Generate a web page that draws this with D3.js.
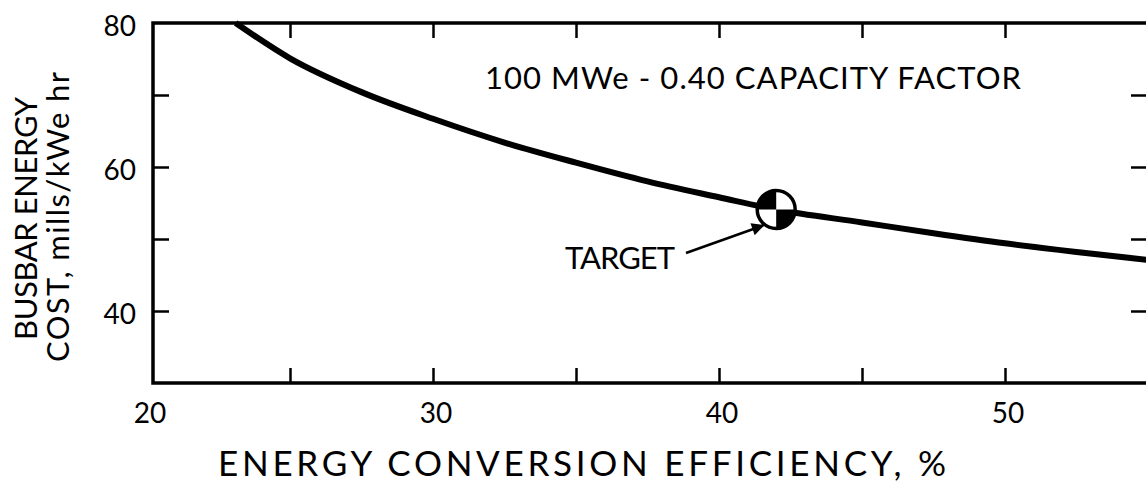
<!DOCTYPE html>
<html>
<head>
  <script src="https://d3js.org/d3.v7.min.js"></script>
  <style>
    body { margin: 0; background: #fff; }
    text { font-family: Lato, "Noto Sans", sans-serif; fill: #000; }
    .tick line { stroke: #000; stroke-width: 2.5; }
  </style>
</head>
<body>
  <script>
    var width = 1146,
        height = 483;

    // curve
    var efficiency = [23.1, 25, 27.5, 30, 32.5, 35, 37.5, 40, 42, 45, 47.5, 50, 52.5, 55];
    var cost = [80, 75.1, 70.4, 66.7, 63.4, 60.6, 58.0, 55.8, 54.1, 52.3, 50.8, 49.4, 48.2, 47.1];
    var target = [42, 54.1];

    var xTicks = [25, 30, 35, 40, 45, 50];
    var xLabels = [20, 30, 40, 50];
    var yTicks = [40, 50, 60, 70];
    var yLabels = [40, 60, 80];

    var x = d3.scaleLinear().domain([20, 55]).range([147, 1148]);
    var y = d3.scaleLinear().domain([30, 80]).range([383, 23]);

    var svg = d3.select("body").append("svg").attr("width", width).attr("height", height);

    var fLeft = 153, fRight = 1148, fTop = y(80), fBottom = y(30);

    // inward ticks on all four sides
    svg.append("g").attr("transform", "translate(0," + fBottom + ")")
      .call(d3.axisBottom(x).tickValues(xTicks).tickSize(-15).tickFormat(""))
      .select(".domain").remove();
    svg.append("g").attr("transform", "translate(0," + fTop + ")")
      .call(d3.axisTop(x).tickValues(xTicks).tickSize(-15).tickFormat(""))
      .select(".domain").remove();
    svg.append("g").attr("transform", "translate(" + fLeft + ",0)")
      .call(d3.axisLeft(y).tickValues(yTicks).tickSize(-16).tickFormat(""))
      .select(".domain").remove();
    svg.append("g").attr("transform", "translate(" + (fRight - 2) + ",0)")
      .call(d3.axisRight(y).tickValues(yTicks).tickSize(-15).tickFormat(""))
      .select(".domain").remove();

    // frame
    svg.append("rect")
      .attr("x", fLeft).attr("y", fTop)
      .attr("width", fRight - fLeft).attr("height", fBottom - fTop)
      .attr("fill", "none").attr("stroke", "#000").attr("stroke-width", 3.5);

    // tick labels
    svg.selectAll(".xl").data(xLabels).enter().append("text")
      .attr("x", function(d) { return x(d) + 3; })
      .attr("y", 423)
      .attr("text-anchor", "middle")
      .style("font-size", "28px")
      .text(function(d) { return d; });
    svg.selectAll(".yl").data(yLabels).enter().append("text")
      .attr("x", 136)
      .attr("y", function(d) { return y(d) + 13; })
      .attr("text-anchor", "end")
      .style("font-size", "28px")
      .text(function(d) { return d; });

    // curve
    var line = d3.line()
      .x(function(d, i) { return x(efficiency[i]); })
      .y(function(d) { return y(d); })
      .curve(d3.curveMonotoneX);
    svg.append("path")
      .datum(cost)
      .attr("d", line)
      .attr("fill", "none")
      .attr("stroke", "#000")
      .attr("stroke-width", 6);

    // target marker
    var tx = x(target[0]), ty = y(target[1]), r = 19;
    var g = svg.append("g").attr("transform", "translate(" + tx + "," + ty + ")");
    g.append("circle").attr("r", r).attr("fill", "#fff");
    var arc = d3.arc().innerRadius(0).outerRadius(r);
    g.append("path").attr("d", arc({ startAngle: -Math.PI / 2, endAngle: 0 })).attr("fill", "#000");
    g.append("path").attr("d", arc({ startAngle: Math.PI / 2, endAngle: Math.PI })).attr("fill", "#000");
    g.append("circle").attr("r", r).attr("fill", "none").attr("stroke", "#000").attr("stroke-width", 3.5);

    // arrow to target
    svg.append("defs").append("marker")
      .attr("id", "head").attr("viewBox", "0 0 10 10")
      .attr("refX", 9).attr("refY", 5)
      .attr("markerWidth", 7).attr("markerHeight", 5)
      .attr("orient", "auto")
      .append("path").attr("d", "M0,0L10,5L0,10Z").attr("fill", "#000");
    svg.append("line")
      .attr("x1", 686).attr("y1", 253)
      .attr("x2", tx - 13).attr("y2", ty + 16)
      .attr("stroke", "#000").attr("stroke-width", 2.5)
      .attr("marker-end", "url(#head)");

    svg.append("text").attr("x", 565).attr("y", 269)
      .attr("textLength", 110).attr("lengthAdjust", "spacing")
      .style("font-size", "31px")
      .text("TARGET");

    svg.append("text").attr("x", 485).attr("y", 89)
      .attr("textLength", 536).attr("lengthAdjust", "spacing")
      .style("font-size", "31px")
      .text("100 MWe - 0.40 CAPACITY FACTOR");

    svg.append("text").attr("x", 218).attr("y", 476)
      .attr("textLength", 728).attr("lengthAdjust", "spacing")
      .style("font-size", "35px")
      .text("ENERGY CONVERSION EFFICIENCY, %");

    // two-line rotated y title
    var yt = svg.append("g").attr("transform", "rotate(-90)");
    yt.append("text").attr("x", -340).attr("y", 37)
      .attr("textLength", 243).attr("lengthAdjust", "spacing")
      .style("font-size", "31px")
      .text("BUSBAR ENERGY");
    yt.append("text").attr("x", -362).attr("y", 69)
      .attr("textLength", 290).attr("lengthAdjust", "spacing")
      .style("font-size", "31px")
      .text("COST, mills/kWe hr");
  </script>
</body>
</html>
